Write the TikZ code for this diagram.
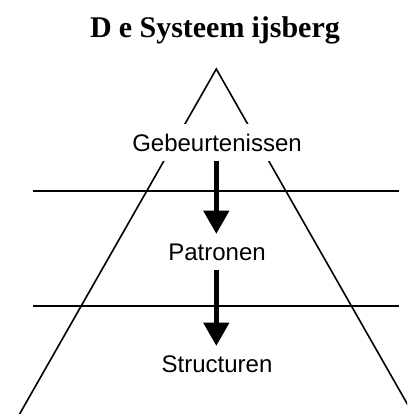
\documentclass[tikz,border=0pt]{standalone}
\usepackage{fontspec}
\setmainfont{Liberation Serif}
\newfontfamily\labelfont{Liberation Sans}
\usetikzlibrary{arrows.meta}
\tikzset{
  edge/.style={line width=1.6pt, line join=miter},
  level/.style={line width=1.8pt},
  layer/.style={font=\labelfont\fontsize{24}{28}\selectfont, fill=white, text height=17pt, text depth=0pt, inner xsep=1pt, inner ysep=9.5pt, anchor=base},
  flow/.style={line width=5.5pt, -{Triangle[width=24.7pt,length=23.4pt]}},
  titlestyle/.style={font=\bfseries\fontsize{30}{36}\selectfont, anchor=base, inner sep=0pt}
}
\begin{document}
\begin{tikzpicture}[x=1pt,y=-1pt]
\useasboundingbox (0,0) rectangle (407,414);
\clip (0,0) rectangle (407,414);
\coordinate (top) at (216.3,69);
\coordinate (bl) at (19.6,414);
\coordinate (br) at (413,414);
\coordinate (l1a) at (33,190.7);
\coordinate (l1b) at (399,190.7);
\coordinate (l2a) at (33,305.7);
\coordinate (l2b) at (399,305.7);
\node[titlestyle] (title) at (215,38) {D\kern7pt e Systeem\kern7pt ijsberg};
\draw[edge] (bl) -- (top) -- (br);
\draw[level] (l1a) -- (l1b);
\draw[level] (l2a) -- (l2b);
\node[layer] (g) at (217,151) {Gebeurtenissen};
\node[layer] (p) at (217,260.7) {Patronen};
\node[layer] (s) at (217,372.7) {Structuren};
\draw[flow] (g.south -| top) -- (p.north -| top);
\draw[flow] (p.south -| top) -- (s.north -| top);
\end{tikzpicture}
\end{document}
